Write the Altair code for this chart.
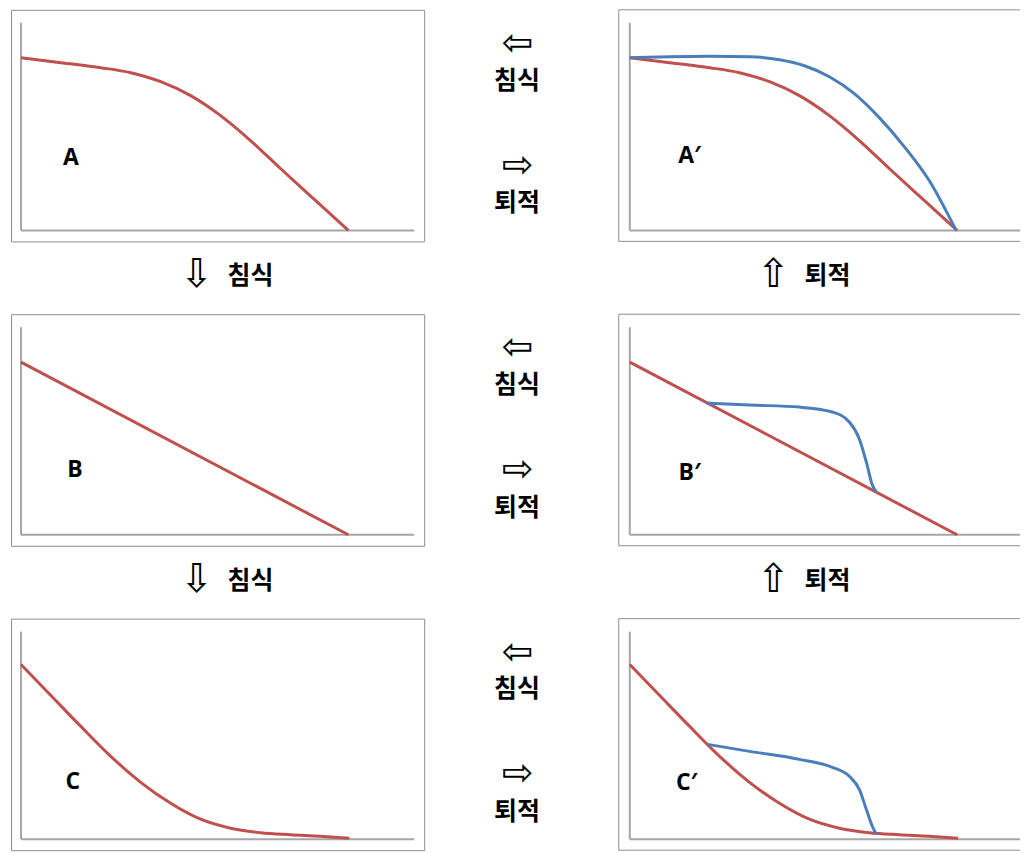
import altair as alt
import pandas as pd

# ---------------- data ----------------
# profile A (red, also underlying A')
a_x = [0, 40, 80, 110, 140, 170, 200, 230, 260, 295, 328]
a_y = [173, 168, 163, 158, 149, 135, 115, 90, 62, 30, 0]
# A' deposited profile (blue)
ab_x = [0, 40, 80, 120, 150, 175, 200, 225, 250, 275, 300, 327]
ab_y = [173, 174, 174.5, 174, 171, 165, 154, 137, 113, 84, 50, 0]
# profile B (red, straight)
b_x = [0, 328]
b_y = [173, 0]
# B' deposited profile (blue)
bb_x = [77, 120, 170, 203, 220, 230, 237, 243, 247]
bb_y = [132, 130, 128, 123, 113, 96, 73, 50, 43]
# profile C (red)
c_x = [0, 30, 60, 90, 120, 150, 180, 210, 240, 270, 300, 329]
c_y = [175, 144, 113, 83, 57, 36, 20, 11, 6.5, 4.5, 3, 1]
# C' deposited profile (blue)
cb_x = [78, 120, 170, 203, 220, 230, 237, 243, 247]
cb_y = [95, 88, 80, 72, 63, 50, 30, 13, 5]

labels = ["A", "A\u2032", "B", "B\u2032", "C", "C\u2032"]
label_x = [50, 60, 54, 60, 52, 57]
label_y = [73, 75, 65, 62, 57, 56]

side_words = ["\uce68\uc2dd", "\ud1f4\uc801"]        # 침식, 퇴적
side_arrows = ["\u21e6", "\u21e8"]                  # ⇦, ⇨
down_arrow, up_arrow = "\u21e9", "\u21e7"          # ⇩, ⇧

# ---------------- layout constants ----------------
W_L, W_M, W_R = 414, 195, 402
H, H_MID = 232, 73
X_DOM_L = [-10, 404]
X_DOM_R = [-11, 391]
Y_DOM = [-11, 221]
AX_TOP = 208

RED = "#c0504d"
BLUE = "#4a7ebb"
AXIS_C = "#a6a6a6"
BOX_C = "#8f8f8f"
KFONT = "Noto Sans CJK KR"
AFONT = "DejaVu Sans"


def panel(label_i, right, red, blue=None):
    xdom = X_DOM_R if right else X_DOM_L
    width = W_R if right else W_L
    ax_end = 391 if right else 394
    xs = alt.Scale(domain=xdom, nice=False, zero=False)
    ys = alt.Scale(domain=Y_DOM, nice=False, zero=False)
    X = lambda f: alt.X(f, scale=xs, axis=None)
    Y = lambda f: alt.Y(f, scale=ys, axis=None)

    layers = []
    if right:
        # the right-hand frames run off the page edge: draw top, left, bottom only
        box_df = pd.DataFrame({"x": [xdom[0], xdom[0], xdom[0]],
                               "x2": [xdom[1], xdom[0], xdom[1]],
                               "y": [Y_DOM[1], Y_DOM[0], Y_DOM[0]],
                               "y2": [Y_DOM[1], Y_DOM[1], Y_DOM[0]]})
        layers.append(alt.Chart(box_df).mark_rule(color=BOX_C, strokeWidth=1).encode(
            x=X("x:Q"), x2="x2:Q", y=Y("y:Q"), y2="y2:Q"))

    axes_df = pd.DataFrame({"x": [0, 0], "x2": [ax_end, 0],
                            "y": [0, 0], "y2": [0, AX_TOP]})
    layers.append(alt.Chart(axes_df).mark_rule(color=AXIS_C, strokeWidth=2).encode(
        x=X("x:Q"), x2="x2:Q", y=Y("y:Q"), y2="y2:Q"))

    red_df = pd.DataFrame({"x": red[0], "y": red[1]})
    layers.append(alt.Chart(red_df).mark_line(
        color=RED, strokeWidth=3, interpolate="monotone").encode(
        x=X("x:Q"), y=Y("y:Q")))
    if blue is not None:
        blue_df = pd.DataFrame({"x": blue[0], "y": blue[1]})
        layers.append(alt.Chart(blue_df).mark_line(
            color=BLUE, strokeWidth=3, interpolate="monotone").encode(
            x=X("x:Q"), y=Y("y:Q")))
    lab_df = pd.DataFrame({"x": [label_x[label_i]], "y": [label_y[label_i]],
                           "t": [labels[label_i]]})
    layers.append(alt.Chart(lab_df).mark_text(
        font="Open Sans", fontSize=23, fontWeight="bold", color="black",
        baseline="middle", align="center").encode(
        x=X("x:Q"), y=Y("y:Q"), text="t:N"))
    ch = alt.layer(*layers).properties(width=width, height=H)
    if not right:
        ch = ch.properties(view=alt.ViewConfig(stroke=BOX_C, strokeWidth=1))
    return ch


def text_cell(width, height, arrows, words, arrow_size):
    """arrows / words: lists of (x, y, text) in pixels from the cell's top-left."""
    xs = alt.Scale(domain=[0, width], nice=False, zero=False)
    ys = alt.Scale(domain=[0, height], nice=False, zero=False, reverse=True)
    arr_df = pd.DataFrame(arrows, columns=["x", "y", "t"])
    word_df = pd.DataFrame(words, columns=["x", "y", "t"])
    arr = alt.Chart(arr_df).mark_text(
        font=AFONT, fontSize=arrow_size, color="black", baseline="middle").encode(
        x=alt.X("x:Q", scale=xs, axis=None), y=alt.Y("y:Q", scale=ys, axis=None),
        text="t:N")
    word = alt.Chart(word_df).mark_text(
        font=KFONT, fontSize=25, fontWeight="bold", color="black",
        baseline="middle").encode(
        x=alt.X("x:Q", scale=xs, axis=None), y=alt.Y("y:Q", scale=ys, axis=None),
        text="t:N")
    return alt.layer(arr, word).properties(width=width, height=height)


def middle():
    offs = [34, 71, 156, 194]
    return text_cell(W_M, H,
                     [(94, offs[0], side_arrows[0]), (94, offs[2], side_arrows[1])],
                     [(93, offs[1], side_words[0]), (93, offs[3], side_words[1])], 38)


def between_left():
    return text_cell(W_L, H_MID, [(186, 34, down_arrow)], [(240, 35, side_words[0])], 40)


def between_right():
    return text_cell(W_R, H_MID, [(155, 34, up_arrow)], [(209, 35, side_words[1])], 40)


def spacer():
    return alt.Chart(pd.DataFrame({"t": [""]})).mark_text().encode(
        text="t:N").properties(width=W_M, height=H_MID)


cells = [
    panel(0, False, (a_x, a_y)), middle(), panel(1, True, (a_x, a_y), (ab_x, ab_y)),
    between_left(), spacer(), between_right(),
    panel(2, False, (b_x, b_y)), middle(), panel(3, True, (b_x, b_y), (bb_x, bb_y)),
    between_left(), spacer(), between_right(),
    panel(4, False, (c_x, c_y)), middle(), panel(5, True, (c_x, c_y), (cb_x, cb_y)),
]

chart = alt.concat(*cells, columns=3, spacing=0, bounds="flush").properties(
    padding={"left": 2, "top": 0, "right": 0, "bottom": 0},
    background="white",
).configure_view(stroke="transparent")

chart.save("out.html", embed_options={"renderer": "svg", "actions": False})
